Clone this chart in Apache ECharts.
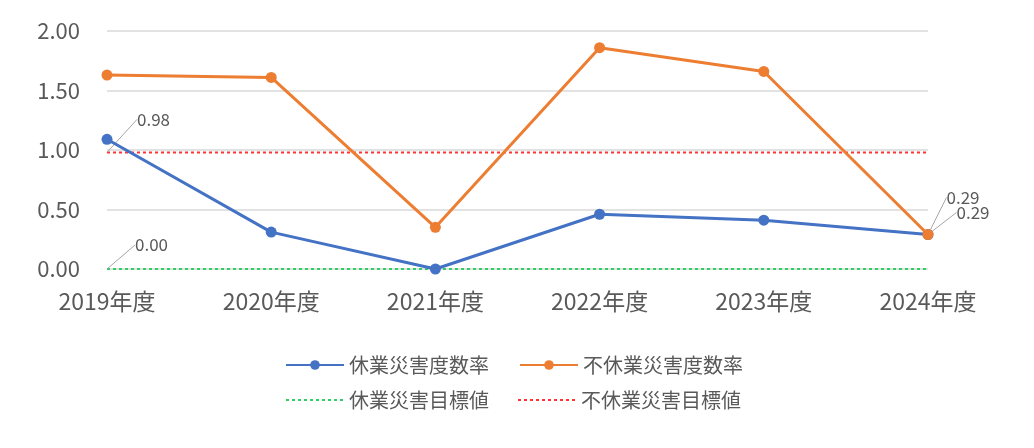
<!DOCTYPE html>
<html><head><meta charset="utf-8">
<script src="https://cdn.jsdelivr.net/npm/echarts@6/dist/echarts.min.js"></script>
<style>html,body{margin:0;padding:0;background:#fff}#c{width:1034px;height:448px}</style>
</head><body><div id="c"></div>
<script>
const categories = ['2019年度','2020年度','2021年度','2022年度','2023年度','2024年度'];
const lostTimeRate = [1.09, 0.31, 0.00, 0.46, 0.41, 0.29];
const nonLostTimeRate = [1.63, 1.61, 0.35, 1.86, 1.66, 0.29];
const lostTimeTarget = [0.00, 0.00, 0.00, 0.00, 0.00, 0.00];
const nonLostTimeTarget = [0.98, 0.98, 0.98, 0.98, 0.98, 0.98];

const font = '"Noto Sans CJK JP", "Noto Sans", sans-serif';
const txt = '#595959';
function withLabels(arr, idx) {
  return arr.map((v, i) => i === idx ? {value: v, label: {show: true}} : v);
}
const lbl = {show: false, position: 'right', distance: 5, color: txt, fontSize: 17, fontFamily: font,
  formatter: p => Number(p.value).toFixed(2)};
const leader = {show: true, lineStyle: {color: '#a6a6a6', width: 1}};
const chart = echarts.init(document.getElementById('c'));
chart.setOption({
  animation: false,
  grid: {left: 107, right: 106, top: 31, bottom: 179},
  xAxis: {
    type: 'category', data: categories, boundaryGap: false,
    axisLine: {show: false}, axisTick: {show: false},
    axisLabel: {color: txt, fontSize: 23, fontFamily: font, margin: 21}
  },
  yAxis: {
    type: 'value', min: 0, max: 2, interval: 0.5,
    axisLabel: {color: txt, fontSize: 22, fontFamily: font, margin: 27, formatter: v => v.toFixed(2)},
    splitLine: {lineStyle: {color: '#d9d9d9', width: 1.5}}
  },
  legend: [
    {top: 350, left: 280, itemWidth: 58, itemHeight: 12, itemGap: 30,
     textStyle: {color: txt, fontSize: 20, fontFamily: font},
     data: ['休業災害度数率', '不休業災害度数率']},
    {top: 385, left: 280, itemWidth: 58, itemHeight: 12, itemGap: 28,
     textStyle: {color: txt, fontSize: 20, fontFamily: font},
     data: [{name: '休業災害目標値', itemStyle: {opacity: 0}},
            {name: '不休業災害目標値', itemStyle: {opacity: 0}}]}
  ],
  series: [
    {name: '休業災害目標値', type: 'line', data: withLabels(lostTimeTarget, 0),
     symbol: 'circle', symbolSize: 0,
     lineStyle: {color: '#33cc66', width: 2, type: [3, 3]}, itemStyle: {color: '#33cc66'},
     label: lbl, labelLayout: {dx: 23, dy: -24}, labelLine: leader, z: 1},
    {name: '不休業災害目標値', type: 'line', data: withLabels(nonLostTimeTarget, 0),
     symbol: 'circle', symbolSize: 0,
     lineStyle: {color: '#ff3333', width: 2, type: [3, 3]}, itemStyle: {color: '#ff3333'},
     label: lbl, labelLayout: {dx: 25, dy: -33}, labelLine: leader, z: 1},
    {name: '休業災害度数率', type: 'line', data: withLabels(lostTimeRate, 5), symbol: 'circle', symbolSize: 11,
     lineStyle: {color: '#4472C4', width: 3}, itemStyle: {color: '#4472C4'},
     label: lbl, labelLayout: {dx: 18, dy: -22}, labelLine: leader, z: 3},
    {name: '不休業災害度数率', type: 'line', data: withLabels(nonLostTimeRate, 5), symbol: 'circle', symbolSize: 11,
     lineStyle: {color: '#ED7D31', width: 3}, itemStyle: {color: '#ED7D31'},
     label: lbl, labelLayout: {dx: 8, dy: -37}, labelLine: leader, z: 4}
  ]
});
</script></body></html>
